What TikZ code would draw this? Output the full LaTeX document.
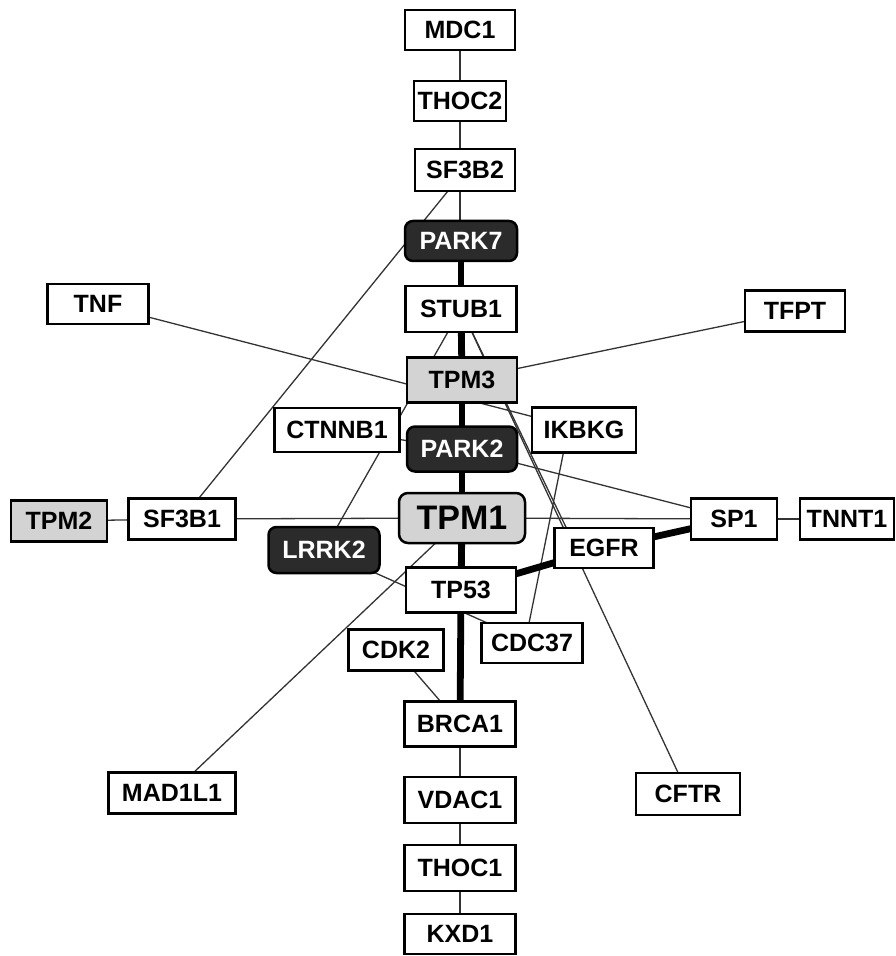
\documentclass[tikz,border=0pt]{standalone}
\usepackage{fontspec}
\setmainfont{Liberation Sans}
\definecolor{darkfill}{HTML}{2B2B2B}
\definecolor{greyfill}{HTML}{D3D3D3}
\definecolor{linkcol}{HTML}{333333}
\pgfdeclarelayer{background}
\pgfsetlayers{background,main}
\begin{document}
\begin{tikzpicture}[x=0.5pt,y=-0.5pt,
  gene/.style={draw=black, line width=1.25pt, fill=white, inner sep=0pt,
    font=\fontsize{12.5}{14}\selectfont\bfseries},
  darkgene/.style={gene, fill=darkfill, text=white, rounded corners=4pt},
  greygene/.style={gene, fill=greyfill},
  biggene/.style={gene, fill=greyfill, rounded corners=4.5pt,
    font=\fontsize{17}{20}\selectfont\bfseries},
  link/.style={draw=linkcol, line width=0.65pt},
  strong/.style={draw=black, line width=3.4pt}]
\useasboundingbox (0,0) rectangle (895,956);

% nodes
\node[gene, minimum width=55pt, minimum height=20pt] (mdc1) at (460,30) {MDC1};
\node[gene, minimum width=46pt, minimum height=20pt] (thoc2) at (460,101) {THOC2};
\node[gene, minimum width=50pt, minimum height=21pt] (sf3b2) at (465,170) {SF3B2};
\node[darkgene, minimum width=56pt, minimum height=20pt] (park7) at (461,241) {PARK7};
\node[gene, minimum width=55.5pt, minimum height=23pt] (stub1) at (461,309) {STUB1};
\node[greygene, minimum width=55pt, minimum height=22.5pt] (tpm3) at (462,380) {TPM3};
\node[gene, minimum width=62.5pt, minimum height=22pt] (ctnnb1) at (337,430) {CTNNB1};
\node[darkgene, minimum width=55pt, minimum height=22.5pt] (park2) at (462,449) {PARK2};
\node[gene, minimum width=52pt, minimum height=22.5pt] (ikbkg) at (584,430) {IKBKG};
\node[biggene, minimum width=63pt, minimum height=25pt] (tpm1) at (462,518) {TPM1};
\node[darkgene, minimum width=55.5pt, minimum height=23pt] (lrrk2) at (324,550) {LRRK2};
\node[gene, minimum width=49.5pt, minimum height=20pt] (egfr) at (604,548) {EGFR};
\node[gene, minimum width=55pt, minimum height=22.5pt] (tp53) at (461,590) {TP53};
\node[gene, minimum width=50.5pt, minimum height=20pt] (cdc37) at (532,643) {CDC37};
\node[gene, minimum width=47.5pt, minimum height=20.5pt] (cdk2) at (396,650) {CDK2};
\node[gene, minimum width=55.5pt, minimum height=22.5pt] (brca1) at (460,724) {BRCA1};
\node[gene, minimum width=55.5pt, minimum height=23pt] (vdac1) at (460,800) {VDAC1};
\node[gene, minimum width=55.5pt, minimum height=23pt] (thoc1) at (460,868) {THOC1};
\node[gene, minimum width=55.5pt, minimum height=20pt] (kxd1) at (460,934) {KXD1};
\node[greygene, minimum width=48pt, minimum height=20.5pt] (tpm2) at (59,521) {TPM2};
\node[gene, minimum width=53.5pt, minimum height=20.5pt] (sf3b1) at (182,519) {SF3B1};
\node[gene, minimum width=43pt, minimum height=20.5pt] (sp1) at (734,519) {SP1};
\node[gene, minimum width=47pt, minimum height=20.5pt] (tnnt1) at (847,519) {TNNT1};
\node[gene, minimum width=50.5pt, minimum height=20pt] (tnf) at (98,304) {TNF};
\node[gene, minimum width=50pt, minimum height=20.5pt] (tfpt) at (795,311) {TFPT};
\node[gene, minimum width=63.5pt, minimum height=20.5pt] (mad1l1) at (172,793) {MAD1L1};
\node[gene, minimum width=52pt, minimum height=21pt] (cftr) at (688,794) {CFTR};

% connectors
\begin{pgfonlayer}{background}
\draw[link] (mdc1.center) -- (thoc2.center);
\draw[link] (thoc2.center) -- ([xshift=-2.5pt]sf3b2.center);
\draw[link] ([xshift=-2.5pt]sf3b2.center) -- ([xshift=-0.5pt]park7.center);
\draw[link] (sf3b2.center) -- (sf3b1.center);
\draw[link] (tnf.center) -- (ikbkg.center);
\draw[link] (tfpt.center) -- (tpm3.center);
\draw[link] (stub1.center) -- (lrrk2.center);
\draw[link] (stub1.center) -- (cftr.center);
\draw[link] (stub1.center) -- ([xshift=-14pt]egfr.center);
\draw[link] (ctnnb1.center) -- (park2.center);
\draw[link] (park2.center) -- (sp1.center);
\draw[link] (sf3b1.center) -- (tpm1.center);
\draw[link] (tpm1.center) -- (sp1.center);
\draw[link] (tpm2.center) -- (sf3b1.center);
\draw[link] (sp1.center) -- (tnnt1.center);
\draw[link] ([xshift=-8pt]ikbkg.center) -- ([xshift=-3.5pt]cdc37.center);
\draw[link] (lrrk2.center) -- (cdc37.center);
\draw[link] (mad1l1.center) -- (tpm1.center);
\draw[link] (cdk2.center) -- (brca1.center);
\draw[link] (brca1.center) -- (vdac1.center);
\draw[link] (vdac1.center) -- (thoc1.center);
\draw[link] (thoc1.center) -- (kxd1.center);
\draw[strong] (park7.center) -- (stub1.center);
\draw[strong] (stub1.center) -- (tpm3.center);
\draw[strong] (tpm3.center) -- (park2.center);
\draw[strong] (park2.center) -- (tpm1.center);
\draw[strong] (tpm1.center) -- (tp53.center);
\draw[strong] (tp53.center) -- (brca1.center);
\draw[strong] (tp53.center) -- (egfr.center);
\draw[strong] (egfr.center) -- (sp1.center);
\end{pgfonlayer}
\end{tikzpicture}
\end{document}
